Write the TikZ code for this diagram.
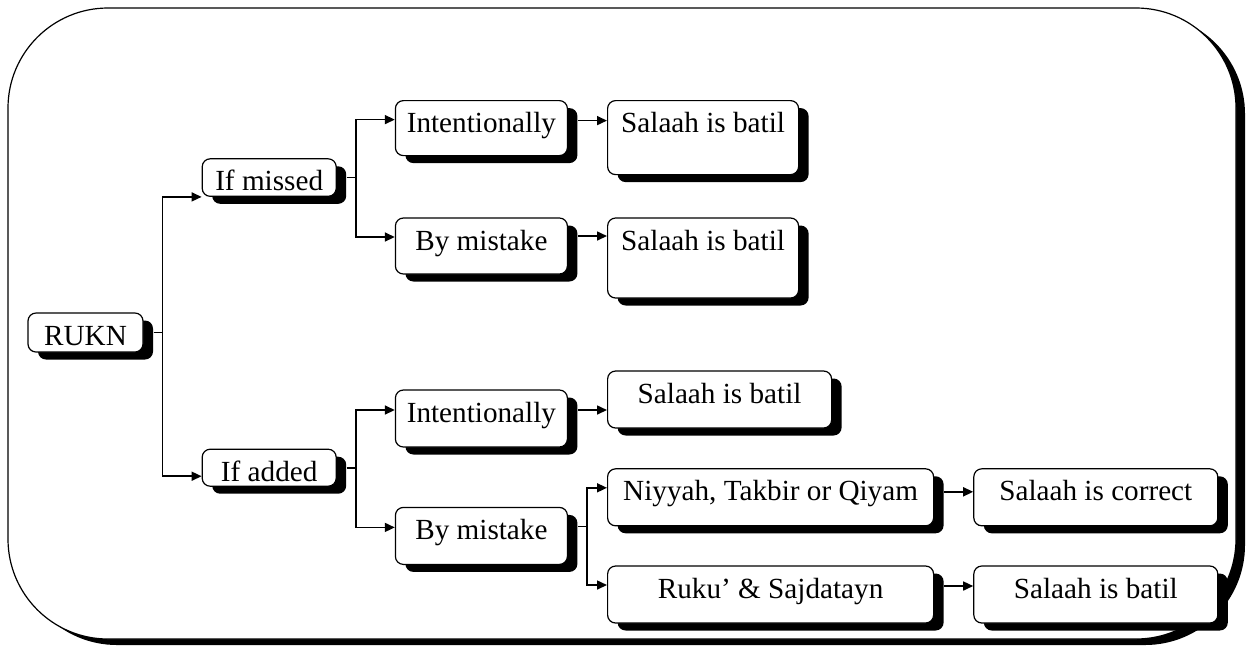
\documentclass[tikz,border=0pt]{standalone}
\usepackage{fontspec}
\setmainfont{Liberation Serif}
\usepackage{tikz}
\usetikzlibrary{positioning, arrows.meta, shadows}

\begin{document}
\begin{tikzpicture}[
        x=0.5pt, y=-0.5pt,
        font=\fontsize{14.6}{17.5}\selectfont,
        box/.style={draw, rectangle, rounded corners=4pt, fill=white, line width=0.6pt, inner sep=2pt, text height=14pt, text depth=#1, drop shadow={shadow xshift=5pt, shadow yshift=-3.75pt, fill=black, opacity=1}},
        box/.default=10.5pt,
        link/.style={-{Triangle[length=5pt, width=4.5pt]}, line width=0.8pt}
    ]
    \useasboundingbox (0,0) rectangle (1246,645);

    % Frame
    \draw[rounded corners=50pt, line width=0.6pt, fill=white, drop shadow={shadow xshift=4.5pt, shadow yshift=-3pt, fill=black, opacity=1}] (8,8) rectangle (1236,639);

    \node[box=1.5pt, minimum width=57.5pt] (rukn) at (85.5,332.5) {RUKN};

    % If missed
    \node[box=0.75pt, minimum width=67pt] (missed) [above right=57.75pt and 29pt of rukn] {If missed};
    \node[box=9.5pt, minimum width=86pt] (intent1) [above right=1pt and 29pt of missed] {Intentionally};
    \node[box=10pt, minimum width=86pt] (mistake1) [below right=10.25pt and 29pt of missed] {By mistake};
    \node[box=19pt, minimum width=95.5pt] (batil1) [below right=0pt and 19.5pt of intent1.north east] {Salaah is batil};
    \node[box=22pt, minimum width=95.5pt] (batil2) [below right=0pt and 19.5pt of mistake1.north east] {Salaah is batil};
    \draw[link] ([xshift=5pt]rukn.east) -- ++(4.5pt,0) |- (missed.south west);
    \draw[link] ([xshift=5pt]missed.east) -- ++(4.5pt,0) |- ([yshift=4.25pt]intent1.west);
    \draw[link] ([xshift=5pt]missed.east) -- ++(4.5pt,0) |- ([yshift=4.5pt]mistake1.west);
    \draw[link] ([xshift=5pt,yshift=3.75pt]intent1.east) -- ([yshift=3.75pt]intent1.east -| batil1.west);
    \draw[link] ([xshift=5pt,yshift=5pt]mistake1.east) -- ([yshift=5pt]mistake1.east -| batil2.west);

    % If added
    \node[box=0.5pt, minimum width=67pt] (added) [below right=48pt and 29pt of rukn] {If added};
    \node[box, minimum width=86pt] (intent2) [above right=0.5pt and 29pt of added] {Intentionally};
    \node[box, minimum width=86pt] (mistake2) [below right=10pt and 29pt of added] {By mistake};
    \node[box, minimum width=112pt] (batil3) [right=19.5pt of intent2, yshift=9.5pt] {Salaah is batil};
    \node[box, minimum width=163pt] (niyyah) [above right=4.75pt and 19.5pt of mistake2.east] {Niyyah, Takbir or Qiyam};
    \node[box, minimum width=163pt] (ruku) [below right=14.75pt and 19.5pt of mistake2.east] {Ruku’ \& Sajdatayn};
    \node[box, minimum width=122pt] (correct) [right=19.5pt of niyyah] {Salaah is correct};
    \node[box, minimum width=122pt] (batil4) [right=19.5pt of ruku] {Salaah is batil};
    \draw[link] ([xshift=5pt]rukn.east) -- ++(4.5pt,0) |- ([yshift=-4.25pt]added.west);
    \draw[link] ([xshift=5pt]added.east) -- ++(4.5pt,0) |- ([yshift=4.25pt]intent2.west);
    \draw[link] ([xshift=5pt]added.east) -- ++(4.5pt,0) |- ([yshift=4.25pt]mistake2.west);
    \draw[link] ([xshift=5pt,yshift=4.25pt]intent2.east) -- ([yshift=4.25pt]intent2.east -| batil3.west);
    \draw[link] ([xshift=5pt,yshift=4.75pt]mistake2.east) -- ++(4.5pt,0) |- ([yshift=4.75pt]niyyah.west);
    \draw[link] ([xshift=5pt,yshift=4.75pt]mistake2.east) -- ++(4.5pt,0) |- ([yshift=4.75pt]ruku.west);
    \draw[link] ([xshift=5pt,yshift=2.75pt]niyyah.east) -- ([yshift=2.75pt]niyyah.east -| correct.west);
    \draw[link] ([xshift=5pt,yshift=4.25pt]ruku.east) -- ([yshift=4.25pt]ruku.east -| batil4.west);

\end{tikzpicture}
\end{document}
